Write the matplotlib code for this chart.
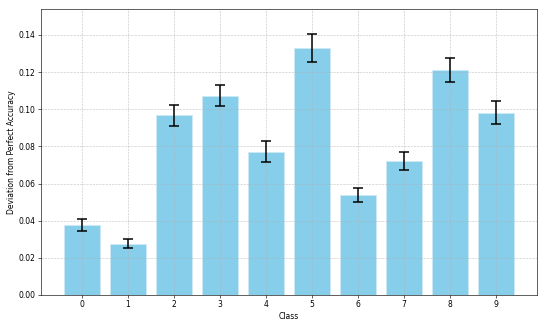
import numpy as np
import matplotlib
matplotlib.use("Agg")
import matplotlib.pyplot as plt

classes = [0, 1, 2, 3, 4, 5, 6, 7, 8, 9]
deviation = [0.0376, 0.0275, 0.0967, 0.1074, 0.0772, 0.1331, 0.0538, 0.0721, 0.1212, 0.0982]
errors = [0.0034, 0.0024, 0.0056, 0.0054, 0.0058, 0.0076, 0.0038, 0.0049, 0.0066, 0.0061]

fig, ax = plt.subplots(figsize=(10, 6), dpi=54.5)
ax.bar(classes, deviation, yerr=errors, color="skyblue", edgecolor="#cdeaf5",
       capsize=6, error_kw=dict(elinewidth=2, capthick=2, ecolor="black"))
ax.set_xlabel("Class")
ax.set_ylabel("Deviation from Perfect Accuracy")
ax.set_xticks(classes)
ax.set_ylim(0, 0.154)
ax.grid(True, linestyle="--", alpha=0.7)
fig.subplots_adjust(left=0.0752, right=0.9853, top=0.9725, bottom=0.098)
plt.savefig("out.png")
